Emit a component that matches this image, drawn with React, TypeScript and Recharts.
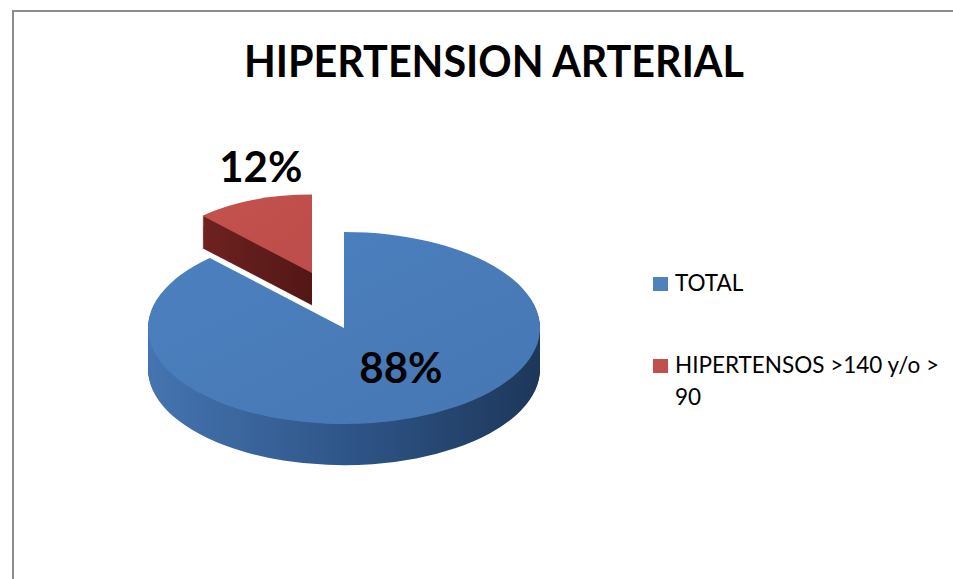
import { PieChart, Pie, Cell } from "recharts";

const categories = ["TOTAL", "HIPERTENSOS >140 y/o > 90"];
const values = [88, 12];
const percentLabels = ["88%", "12%"];
const legendColors = ["#4f81bd", "#c0504d"];

const K = 0.49; // vertical squash for the tilted pie
const CX = 344;
const CY = 328 / K;
const STEP = 2;

// per slice: radius, depth and offset of the exploded piece (the far slice looks smaller)
const radii = [196, 160];
const depths = [41 / K, 32 / K];
const offsets = [
  { dx: 0, dy: 0 },
  { dx: -32, dy: -55 / K },
];

const faceFills = ["url(#blueFace)", "url(#redFace)"];
const sideFills = ["url(#blueSide)", "url(#redSide)"];
const labelOffsets = [
  { dx: 0.29, dy: 0.41 },
  { dx: -0.32, dy: -1.36 },
];

const data = categories.map((name, i) => ({ name, value: values[i] }));

const makeLabel = (slice: number) => (props: any) => {
  if (props.index !== slice) return null;
  const o = labelOffsets[slice];
  const x = props.cx + o.dx * radii[slice];
  const y = props.cy + o.dy * radii[slice];
  return (
    <text
      transform={`translate(${x} ${y}) scale(1 ${1 / K})`}
      x={0}
      y={0}
      textAnchor="middle"
      dominantBaseline="central"
      fontFamily="Lato, sans-serif"
      fontWeight={700}
      fontSize={42}
      fill="#000"
    >
      {percentLabels[slice]}
    </text>
  );
};

export default function App() {
  const order = [1, 0]; // exploded red slice sits behind the blue one

  return (
    <div
      style={{
        position: "absolute",
        left: 0,
        top: 0,
        width: 953,
        height: 579,
        overflow: "hidden",
        background: "#fff",
        fontFamily: "Lato, sans-serif",
      }}
    >
      <div
        style={{
          position: "absolute",
          left: 12,
          top: 10,
          width: 1000,
          height: 700,
          borderLeft: "2px solid #8c8c8c",
          borderTop: "2px solid #8c8c8c",
        }}
      />
      <div
        style={{
          position: "absolute",
          left: 0,
          top: 0,
          width: 953,
          height: 579 / K,
          transform: `scaleY(${K})`,
          transformOrigin: "0 0",
        }}
      >
        <PieChart width={700} height={579 / K} margin={{ top: 0, right: 0, bottom: 0, left: 0 }}>
          <defs>
            <linearGradient id="blueFace" x1="0" y1="0" x2="1" y2="1">
              <stop offset="0%" stopColor="#4c80bf" />
              <stop offset="100%" stopColor="#4677b3" />
            </linearGradient>
            <linearGradient id="redFace" x1="0" y1="0" x2="1" y2="1">
              <stop offset="0%" stopColor="#c4524f" />
              <stop offset="100%" stopColor="#bd4d4a" />
            </linearGradient>
            <linearGradient id="blueSide" x1="0" y1="0" x2="1" y2="0">
              <stop offset="0%" stopColor="#4574b0" />
              <stop offset="50%" stopColor="#2f5689" />
              <stop offset="100%" stopColor="#1d375a" />
            </linearGradient>
            <linearGradient id="redSide" x1="0" y1="0" x2="1" y2="0">
              <stop offset="0%" stopColor="#6e2220" />
              <stop offset="100%" stopColor="#521715" />
            </linearGradient>
          </defs>
          {order.map((s) => {
            const cx = CX + offsets[s].dx;
            const cy = CY + offsets[s].dy;
            const n = Math.round(depths[s] / STEP);
            const copies = Array.from({ length: n }, (_, j) => n - j);
            return [
              ...copies.map((j) => (
                <Pie
                  key={`side-${s}-${j}`}
                  data={data}
                  dataKey="value"
                  cx={cx}
                  cy={cy + j * STEP}
                  outerRadius={radii[s]}
                  startAngle={90}
                  endAngle={-270}
                  stroke="none"
                  isAnimationActive={false}
                >
                  {data.map((d, i) => (
                    <Cell key={d.name} fill={i === s ? sideFills[s] : "none"} stroke="none" />
                  ))}
                </Pie>
              )),
              <Pie
                key={`face-${s}`}
                data={data}
                dataKey="value"
                cx={cx}
                cy={cy}
                outerRadius={radii[s]}
                startAngle={90}
                endAngle={-270}
                stroke="none"
                label={makeLabel(s)}
                labelLine={false}
                isAnimationActive={false}
              >
                {data.map((d, i) => (
                  <Cell key={d.name} fill={i === s ? faceFills[s] : "none"} stroke="none" />
                ))}
              </Pie>,
            ];
          })}
        </PieChart>
      </div>
      <svg width={953} height={120} style={{ position: "absolute", left: 0, top: 0 }}>
        <text
          x={494}
          y={77}
          textAnchor="middle"
          textLength={500}
          lengthAdjust="spacingAndGlyphs"
          fontFamily="Lato, sans-serif"
          fontWeight={700}
          fontSize={44}
          fill="#000"
        >
          HIPERTENSION ARTERIAL
        </text>
      </svg>
      <div style={{ position: "absolute", left: 653, top: 267, width: 300 }}>
        {categories.map((name, i) => (
          <div key={name} style={{ display: "flex", alignItems: "flex-start", marginBottom: 50 }}>
            <div
              style={{
                width: 15,
                height: 14,
                background: legendColors[i],
                marginTop: 10,
                marginRight: 7,
                flexShrink: 0,
              }}
            />
            <div style={{ fontSize: 22.5, lineHeight: "32px", color: "#000", width: 275 }}>{name}</div>
          </div>
        ))}
      </div>
    </div>
  );
}
